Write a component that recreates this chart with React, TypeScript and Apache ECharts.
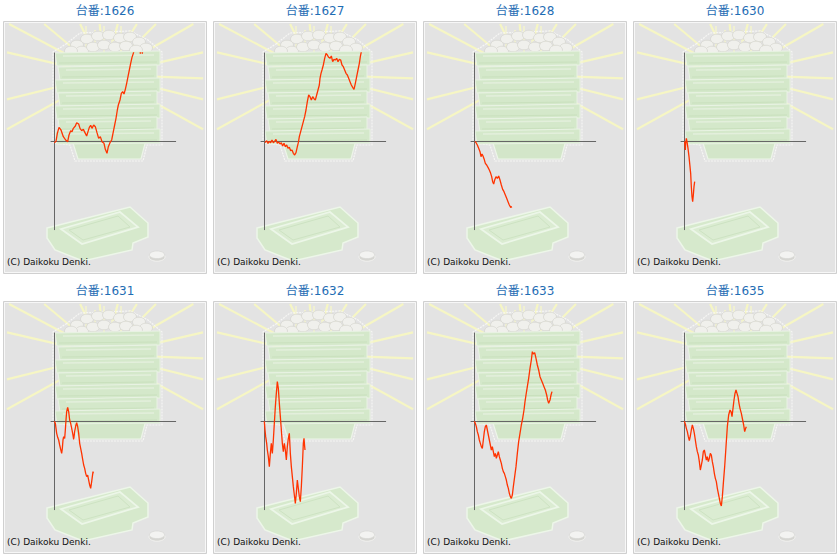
import React, { useEffect, useRef } from 'react';
import * as echarts from 'echarts';

// 台番 (machine numbers)
const MACHINES = ['1626', '1627', '1628', '1630', '1631', '1632', '1633', '1635'];

// x: games played, y: balls difference
const X_MIN = -200;
const X_MAX = 7280;
const Y_MAX = 26500;

const S1626: [number, number][] = [
  [0, -400], [100, 0], [180, 2400], [280, 4200], [400, 3400], [540, 1400], [680, 400], [800, -100],
  [880, 1900], [980, 3200], [1060, 2900], [1140, 3900], [1260, 4600], [1340, 5600], [1460, 5200],
  [1540, 3900], [1640, 3200], [1740, 3600], [1860, 2400], [1940, 1600], [2020, 2900], [2100, 4200],
  [2180, 4800], [2260, 3900], [2360, 4900], [2460, 4400], [2560, 2600], [2660, 900], [2760, 1400],
  [2860, -100], [2980, -600], [3060, -2400], [3160, -3600], [3240, -1600], [3340, -400], [3440, 400],
  [3540, 2900], [3620, 4900], [3700, 6900], [3780, 9400], [3840, 10900], [3940, 12400], [4020, 14400],
  [4100, 14900], [4180, 14200], [4260, 15600], [4340, 17400], [4420, 19400], [4500, 21400],
  [4580, 23400], [4660, 25200], [4740, 26400], [4840, 28400], [4980, 29400], [5140, 27800],
  [5160, 26300], [5180, 27800], [5260, 27900], [5280, 26300], [5300, 27800], [5460, 29900],
];

const S1627: [number, number][] = [
  [40, -400], [140, 200], [220, -600], [300, 0], [380, -400], [460, 400], [540, -400], [620, 0],
  [700, 600], [780, -600], [860, -200], [940, -800], [1020, -400], [1100, -1400], [1180, -600],
  [1260, -1600], [1340, -1100], [1420, -2100], [1500, -1800], [1580, -2800], [1660, -2600],
  [1740, -3600], [1820, -4100], [1900, -3400], [1980, -1600], [2040, -400], [2100, 1400], [2180, 2900],
  [2260, 4400], [2340, 5900], [2420, 7400], [2500, 9400], [2580, 11900], [2660, 13900], [2740, 13400],
  [2820, 12400], [2900, 13400], [2980, 12800], [3060, 12400], [3140, 13900], [3220, 15400],
  [3300, 16900], [3340, 18900], [3400, 20400], [3460, 21400], [3540, 22900], [3620, 24900],
  [3700, 26400], [3780, 25900], [3860, 25200], [3940, 24900], [4020, 25600], [4100, 23900],
  [4180, 24600], [4260, 24400], [4340, 24900], [4420, 23900], [4500, 24600], [4580, 24400],
  [4660, 22900], [4740, 22400], [4820, 21400], [4900, 20400], [4980, 19900], [5060, 18900],
  [5140, 17900], [5220, 16900], [5300, 16200], [5380, 15600], [5460, 17400], [5540, 19400],
  [5620, 21400], [5700, 23400], [5760, 25400], [5820, 26900],
];

const S1628: [number, number][] = [
  [40, 0], [100, -400], [180, -1100], [260, -2100], [340, -3100], [400, -4600], [460, -3800],
  [520, -4400], [580, -5200], [660, -6600], [740, -7100], [820, -7800], [900, -8600], [980, -9600],
  [1040, -10600], [1100, -12100], [1160, -12800], [1220, -11600], [1300, -10600], [1380, -11100],
  [1460, -10400], [1540, -11600], [1620, -13100], [1700, -14400], [1780, -15100], [1860, -16100],
  [1940, -17100], [2020, -18100], [2100, -19100], [2180, -19800], [2260, -19600],
];

const S1630: [number, number][] = [
  [20, 0], [40, -1600], [60, -2600], [80, -600], [120, 900], [160, -100], [220, -2100], [280, -4600],
  [340, -7600], [380, -9600], [420, -13600], [460, -16600], [500, -18100], [540, -16100],
  [580, -13600], [620, -12100],
];

const S1631: [number, number][] = [
  [0, 0], [60, -600], [100, -2100], [140, -3600], [200, -4800], [260, -5600], [320, -7100],
  [380, -8400], [440, -9600], [480, -8100], [520, -5600], [560, -4600], [620, -5100], [660, -2600],
  [700, 400], [740, 2900], [800, 4200], [860, 2900], [920, 400], [980, -600], [1040, -2100],
  [1100, -3600], [1160, -5400], [1220, -3100], [1280, -1400], [1340, -400], [1400, -1600],
  [1460, -3600], [1520, -6600], [1580, -8100], [1640, -9600], [1700, -11400], [1760, -13100],
  [1820, -14100], [1880, -15600], [1940, -16600], [2000, -16100], [2060, -17600], [2120, -19100],
  [2180, -20100], [2240, -18100], [2280, -16600], [2320, -15100], [2340, -15600],
];

const S1632: [number, number][] = [
  [0, 0], [40, -2600], [80, -4600], [140, -6600], [180, -8600], [240, -10600], [300, -13600],
  [360, -9600], [420, -6600], [480, -9600], [540, -5600], [600, -600], [660, 4400], [720, 8400],
  [780, 11900], [840, 9900], [900, 5400], [960, 1400], [1020, -2600], [1080, -6600], [1140, -9100],
  [1200, -6600], [1260, -8600], [1320, -11600], [1380, -7600], [1440, -5100], [1500, -3600],
  [1560, -9600], [1620, -13600], [1680, -16600], [1740, -19600], [1800, -22100], [1860, -24600],
  [1920, -21600], [1980, -17600], [2040, -20100], [2100, -22600], [2160, -24100], [2220, -19600],
  [2280, -13600], [2340, -6600], [2380, -5100], [2420, -7600], [2440, -8600],
];

const S1633: [number, number][] = [
  [0, 0], [60, -600], [120, -1600], [180, -3100], [240, -4100], [300, -5600], [360, -6600],
  [420, -7600], [480, -8100], [540, -5600], [600, -3100], [660, -1600], [720, -1100], [780, -2600],
  [840, -4100], [900, -5600], [960, -7100], [1020, -8600], [1080, -7600], [1140, -9100],
  [1200, -10600], [1260, -9600], [1320, -11100], [1380, -10100], [1440, -9100], [1500, -10600],
  [1560, -11600], [1620, -12600], [1680, -14100], [1740, -15100], [1800, -15600], [1860, -16600],
  [1920, -17600], [1980, -19100], [2040, -20100], [2100, -21600], [2160, -22600], [2220, -23100],
  [2280, -22100], [2340, -19600], [2420, -16600], [2500, -13600], [2580, -9600], [2660, -6100],
  [2740, -3600], [2820, -1100], [2900, 900], [2980, 3400], [3040, 5900], [3100, 7900], [3180, 10400],
  [3260, 12900], [3340, 15900], [3420, 18400], [3480, 20900], [3540, 20200], [3620, 20600],
  [3700, 18900], [3780, 16900], [3860, 15400], [3940, 13400], [4020, 12400], [4100, 11400],
  [4180, 10400], [4260, 9400], [4340, 7900], [4400, 6400], [4460, 5400], [4540, 6400], [4600, 7900],
  [4660, 8900],
];

const S1635: [number, number][] = [
  [0, 0], [60, -800], [120, -2100], [180, -3100], [240, -4600], [300, -5800], [360, -4400],
  [420, -2600], [480, -1100], [540, -2100], [600, -3600], [660, -5600], [720, -7600], [780, -9100],
  [840, -10100], [900, -12100], [960, -14600], [1020, -13100], [1080, -11600], [1140, -9100],
  [1200, -8600], [1260, -10100], [1320, -11600], [1380, -10600], [1440, -12100], [1500, -11100],
  [1560, -9600], [1620, -10100], [1680, -12100], [1740, -13600], [1800, -15600], [1860, -17100],
  [1920, -18100], [1980, -20100], [2040, -21600], [2100, -23100], [2160, -24600], [2220, -25400],
  [2280, -22600], [2340, -18600], [2420, -13600], [2500, -7600], [2580, -1600], [2660, 1900],
  [2740, 3400], [2800, 2900], [2860, 1400], [2920, 3900], [2980, 6400], [3040, 8400], [3100, 9400],
  [3160, 8400], [3220, 7400], [3280, 5400], [3340, 3900], [3420, 2400], [3500, 400], [3560, -1100],
  [3620, -3100], [3680, -2100], [3720, -1600],
];

const SERIES_DATA = [S1626, S1627, S1628, S1630, S1631, S1632, S1633, S1635];

const COPYRIGHT = '(C) Daikoku Denki.';

// ---- decorative background (pachinko illustration), panel-local pixels ----
const RAY_ANGLES = [151, 166, -167, -152, -140, -116, -96, -76, -58, -45, -30, -13, 2, 14, 29];

function z(el: any, zz: number) {
  return { ...el, z: zz };
}

function buildPanelBackground(ox: number, oy: number, title: string) {
  const children: any[] = [];
  // frame
  children.push(z({ type: 'rect', shape: { x: 3.5, y: 21.5, width: 203, height: 252 }, style: { fill: '#e3e3e3', stroke: '#d0d0d0', lineWidth: 1 } }, -10));
  children.push(z({ type: 'rect', shape: { x: 4.5, y: 22.5, width: 201, height: 250 }, style: { fill: 'none', stroke: '#f7f7f7', lineWidth: 1 } }, -10));
  // rays
  const cx = 105, cy = 75;
  const minX = 7, maxX = 203, minY = 24, maxY = 270;
  RAY_ANGLES.forEach((deg) => {
    const a = (deg * Math.PI) / 180;
    const dx = Math.cos(a), dy = Math.sin(a);
    const ts: number[] = [];
    if (dx > 0) ts.push((maxX - cx) / dx);
    if (dx < 0) ts.push((minX - cx) / dx);
    if (dy > 0) ts.push((maxY - cy) / dy);
    if (dy < 0) ts.push((minY - cy) / dy);
    const t = Math.min(...ts);
    children.push(z({
      type: 'line',
      shape: { x1: cx + dx * 35, y1: cy + dy * 35, x2: cx + dx * t, y2: cy + dy * t },
      style: { stroke: '#f6f6c4', lineWidth: 2.2 },
    }, -9));
  });
  // light spikes over the balls
  [86, 95, 104, 112, 121, 130].forEach((sx, k) => {
    children.push(z({ type: 'line', shape: { x1: sx, y1: 26 + (k % 2) * 4, x2: sx, y2: 60 }, style: { stroke: '#f4f4cc', lineWidth: 1.5 } }, -8));
  });
  // white halo outline around the pagoda
  children.push(z({
    type: 'polygon',
    shape: { points: [[66, 44], [80, 33], [130, 31], [148, 40], [162, 52], [162, 145], [147, 145], [143, 161], [75, 161], [70, 145], [53, 143], [53, 52]] },
    style: { fill: 'none', stroke: '#f6f6f4', lineWidth: 1.2, lineDash: [2, 1] },
  }, -8));
  // balls
  const balls = [
    [77, 45], [87, 39], [98, 36], [109, 35], [120, 38], [130, 37], [139, 42], [146, 48],
    [82, 51], [93, 47], [104, 45], [115, 47], [126, 46], [136, 50], [71, 51],
  ];
  balls.forEach(([bx, by]) => {
    children.push(z({ type: 'ellipse', shape: { cx: bx, cy: by, rx: 6.5, ry: 4.8 }, style: { fill: '#f0f0ec', stroke: '#d7d7d0', lineWidth: 0.8 } }, -7));
  });
  // pagoda base
  children.push(z({ type: 'polygon', shape: { points: [[72, 140], [146, 140], [141, 159], [78, 159]] }, style: { fill: '#d3e6c9', stroke: '#edf5e9', lineWidth: 1.2 } }, -6));
  // pagoda bands
  const bandTops = [51, 65, 78, 91, 104, 117, 129];
  bandTops.forEach((t, k) => {
    const l = k % 2 === 0 ? 55 : 58;
    const r = k % 2 === 0 ? 160 : 157;
    children.push(z({
      type: 'polygon',
      shape: { points: [[l, t + 2], [r, t], [r, t + 14], [l + 2, t + 15]] },
      style: { fill: '#d4e8ca', stroke: '#e9f3e4', lineWidth: 1 },
    }, -6));
    children.push(z({
      type: 'line',
      shape: { x1: l + 8, y1: t + 5, x2: r - 6, y2: t + 4 },
      style: { stroke: '#e3efdc', lineWidth: 1.6 },
    }, -6));
    children.push(z({
      type: 'line',
      shape: { x1: l + 4, y1: t + 12, x2: r - 3, y2: t + 11 },
      style: { stroke: '#c9e0bd', lineWidth: 1.1 },
    }, -6));
  });
  // tray
  children.push(z({
    type: 'polygon',
    shape: { points: [[47, 228], [130, 207], [148, 223], [148, 237], [133, 243], [132, 250], [83, 261], [55, 250], [47, 238]] },
    style: { fill: '#d6e9cc', stroke: '#edf6e9', lineWidth: 1.5 },
  }, -6));
  children.push(z({
    type: 'polygon',
    shape: { points: [[61, 229], [120, 212], [138, 227], [82, 244]] },
    style: { fill: '#dbecd2', stroke: '#ecf6e8', lineWidth: 1.8 },
  }, -6));
  children.push(z({
    type: 'polygon',
    shape: { points: [[69, 230], [118, 216], [130, 227], [83, 240]] },
    style: { fill: 'none', stroke: '#cde3c2', lineWidth: 1 },
  }, -6));
  // coin
  children.push(z({ type: 'ellipse', shape: { cx: 157, cy: 257, rx: 8, ry: 4.2 }, style: { fill: '#d6d6d2', stroke: '#f6f6f4', lineWidth: 0.8 } }, -6));
  children.push(z({ type: 'ellipse', shape: { cx: 157, cy: 254.8, rx: 7.6, ry: 3.8 }, style: { fill: '#f3f3f1', stroke: '#d4d4d0', lineWidth: 0.6 } }, -6));
  // copyright
  children.push(z({
    type: 'text', x: 7, y: 262,
    style: {
      text: COPYRIGHT, fill: '#111111', font: '9px "DejaVu Sans", Verdana, sans-serif',
      textAlign: 'left', textVerticalAlign: 'middle', align: 'left', verticalAlign: 'middle',
    },
  }, 5));
  // title
  children.push(z({
    type: 'text', x: 105, y: 10.5,
    style: {
      text: '台番:' + title, fill: '#1f6db4', font: '12px "DejaVu Sans", "Noto Sans CJK JP", sans-serif',
      textAlign: 'center', textVerticalAlign: 'middle', align: 'center', verticalAlign: 'middle',
    },
  }, 5));
  return { type: 'group', x: ox, y: oy, silent: true, children };
}

export default function App() {
  const ref = useRef<HTMLDivElement>(null);

  useEffect(() => {
    if (!ref.current) return;
    const chart = echarts.init(ref.current, undefined, { renderer: 'svg' });
    const grids: any[] = [];
    const xAxes: any[] = [];
    const yAxes: any[] = [];
    const series: any[] = [];
    const graphics: any[] = [];
    const plotLeft = 51, plotTop = 53, plotW = 124.67, plotH = 176.67;

    MACHINES.forEach((m, i) => {
      const ox = (i % 4) * 210;
      const oy = Math.floor(i / 4) * 280;
      graphics.push(buildPanelBackground(ox, oy, m));
      grids.push({ left: ox + plotLeft, top: oy + plotTop, width: plotW, height: plotH, containLabel: false });
      xAxes.push({
        gridIndex: i, type: 'value', min: X_MIN, max: X_MAX,
        axisLine: { show: true, onZero: true, lineStyle: { color: '#666666', width: 1 } },
        axisTick: { show: false }, axisLabel: { show: false }, splitLine: { show: false },
      });
      yAxes.push({
        gridIndex: i, type: 'value', min: -Y_MAX, max: Y_MAX,
        axisLine: { show: true, onZero: true, lineStyle: { color: '#666666', width: 1 } },
        axisTick: { show: false }, axisLabel: { show: false }, splitLine: { show: false },
      });
      series.push({
        type: 'line', name: m, xAxisIndex: i, yAxisIndex: i, data: SERIES_DATA[i],
        showSymbol: false, symbol: 'none', clip: true, silent: true, z: 3,
        lineStyle: { color: '#ff3300', width: 1.3 },
      });
    });

    chart.setOption({
      animation: false,
      backgroundColor: '#ffffff',
      graphic: graphics,
      grid: grids,
      xAxis: xAxes,
      yAxis: yAxes,
      series,
    });
    return () => chart.dispose();
  }, []);

  return (
    <div
      ref={ref}
      style={{ position: 'fixed', left: 0, top: 0, width: 840, height: 560 }}
    />
  );
}
